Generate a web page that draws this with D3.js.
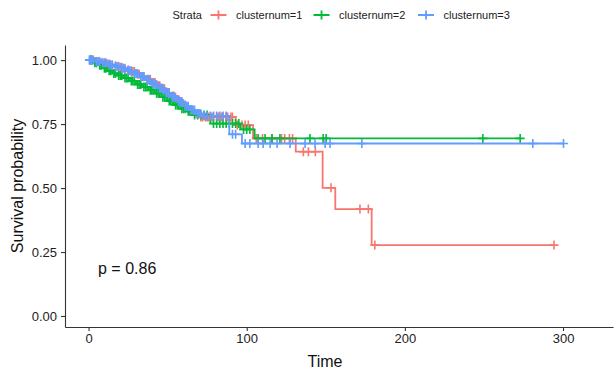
<!DOCTYPE html>
<html>
<head>
<meta charset="utf-8">
<script src="https://cdn.jsdelivr.net/npm/d3@7"></script>
<style>
  body { margin: 0; background: #fff; }
  text { font-family: "Liberation Sans", Arial, sans-serif; }
</style>
</head>
<body>
<div id="chart"></div>
<script>
var width = 616, height = 370;

var strata = ["clusternum=1", "clusternum=2", "clusternum=3"];
var colors = ["#F8766D", "#00BA38", "#619CFF"];

// step points (event times and survival after the step)
var timeC1 = [0, 3, 6, 10, 14, 18, 22, 26, 30, 33, 36, 40, 43, 46, 49, 52, 55, 58, 61, 64, 67, 70, 93, 104, 131, 148, 156, 179];
var survC1 = [1, 0.995, 0.99, 0.985, 0.978, 0.972, 0.962, 0.955, 0.945, 0.935, 0.925, 0.912, 0.9, 0.888, 0.872, 0.86, 0.845, 0.83, 0.812, 0.8, 0.79, 0.778, 0.746, 0.694, 0.642, 0.501, 0.418, 0.277];
var censC1 = [1, 2, 4, 5, 7, 8, 11, 12, 13, 15, 17, 19, 20, 21, 23, 25, 27, 28, 29, 31, 32, 34, 35, 37, 38, 39, 41, 42, 44, 45, 47, 48, 50, 51, 53, 54, 56, 57, 59, 60, 62, 63, 65, 66, 68, 69, 71, 72, 74, 75, 76, 78, 79, 81, 82, 84, 85, 87, 88, 90, 91, 94, 97, 99, 101, 106, 110, 116, 122, 124, 127, 129, 135.8, 139, 143.4, 153.3, 171.6, 176.9, 181, 294.3];

var timeC2 = [0, 3, 6, 9, 12, 15, 18, 22, 26, 30, 34, 38, 42, 46, 50, 54, 58, 62, 66, 77, 96, 105];
var survC2 = [1, 0.99, 0.98, 0.968, 0.958, 0.948, 0.94, 0.93, 0.918, 0.905, 0.895, 0.882, 0.87, 0.855, 0.84, 0.825, 0.81, 0.8, 0.785, 0.752, 0.729, 0.694];
var censC2 = [1, 2, 4, 5, 7, 8, 10, 11, 13, 14, 16, 17, 19, 20, 21, 23, 24, 25, 27, 28, 29, 31, 32, 33, 35, 36, 37, 39, 40, 41, 43, 44, 45, 47, 48, 49, 51, 52, 53, 55, 56, 57, 59, 60, 61, 63, 64, 67, 69, 71, 73, 75, 79, 81, 83, 85, 87, 89, 91, 93, 95, 98, 100, 102, 107.2, 111.6, 116, 121, 140, 148.3, 150.2, 249.3, 272.9];

var timeC3 = [0, 4, 8, 12, 16, 20, 24, 28, 32, 36, 40, 44, 48, 52, 56, 60, 64, 68, 72, 89, 97];
var survC3 = [1, 0.995, 0.99, 0.982, 0.975, 0.968, 0.958, 0.948, 0.936, 0.922, 0.905, 0.89, 0.872, 0.855, 0.838, 0.82, 0.805, 0.79, 0.782, 0.71, 0.674];
var censC3 = [0.5, 1, 2, 3, 5, 6, 7, 9, 10, 11, 13, 14, 15, 17, 18, 19, 21, 22, 23, 25, 26, 27, 29, 30, 31, 33, 34, 35, 37, 38, 39, 41, 42, 43, 45, 46, 47, 49, 50, 51, 53, 54, 55, 57, 58, 59, 61, 62, 63, 65, 66, 67, 69, 70, 71, 73, 75, 77, 79, 81, 83, 85, 87, 91, 93, 99, 102, 107.2, 110.4, 114.8, 119.2, 127.4, 136.9, 143.2, 149.6, 152.7, 172.8, 280.9, 300.3];

var xTicks = [0, 100, 200, 300];
var yTicks = [0, 0.25, 0.5, 0.75, 1];
var pText = "p = 0.86";

var groups = [
  { name: strata[0], color: colors[0], time: timeC1, surv: survC1, cens: censC1 },
  { name: strata[1], color: colors[1], time: timeC2, surv: survC2, cens: censC2 },
  { name: strata[2], color: colors[2], time: timeC3, surv: survC3, cens: censC3 }
];

var svg = d3.select("#chart")
  .append("svg")
  .attr("width", width)
  .attr("height", height);

var x = d3.scaleLinear().domain([-14.9, 331.6]).range([65, 613]);
var y = d3.scaleLinear().domain([-0.043, 1.059]).range([327, 45]);

// axes
var xAxis = svg.append("g")
  .attr("transform", "translate(0,327)")
  .call(d3.axisBottom(x).tickValues(xTicks).tickSize(4).tickPadding(3).tickSizeOuter(0).tickFormat(d3.format("d")));
var yAxis = svg.append("g")
  .attr("transform", "translate(65,0)")
  .call(d3.axisLeft(y).tickValues(yTicks).tickSize(4).tickPadding(4).tickSizeOuter(0).tickFormat(d3.format(".2f")));

[xAxis, yAxis].forEach(function(a) {
  a.select(".domain").attr("stroke", "#333").attr("stroke-width", 1.1);
  a.selectAll(".tick line").attr("stroke", "#333").attr("stroke-width", 1.1);
  a.selectAll(".tick text").attr("fill", "#222").style("font-size", "13px")
    .style("font-family", "'Liberation Sans', Arial, sans-serif");
});

function survAt(g, t) {
  var s = g.surv[0];
  for (var i = 0; i < g.time.length; i++) {
    if (g.time[i] <= t) s = g.surv[i];
  }
  return s;
}

var line = d3.line()
  .x(function(d) { return x(d[0]); })
  .y(function(d) { return y(d[1]); })
  .curve(d3.curveStepAfter);

groups.forEach(function(g) {
  var pts = g.time.map(function(t, i) { return [t, g.surv[i]]; });
  var tMax = d3.max(g.cens);
  pts.push([tMax, g.surv[g.surv.length - 1]]);

  svg.append("path")
    .datum(pts)
    .attr("fill", "none")
    .attr("stroke", g.color)
    .attr("stroke-width", 1.8)
    .attr("d", line);

  svg.append("g").selectAll("path")
    .data(g.cens)
    .enter()
    .append("path")
    .attr("stroke", g.color)
    .attr("stroke-width", 1.6)
    .attr("d", function(t) {
      var cx = x(t), cy = y(survAt(g, t));
      return "M" + (cx - 4.5) + "," + cy + "H" + (cx + 4.5) + "M" + cx + "," + (cy - 4.5) + "V" + (cy + 4.5);
    });
});

// p value
svg.append("text")
  .attr("x", 98)
  .attr("y", 274)
  .style("font-size", "16px")
  .attr("fill", "#111")
  .text(pText);

// axis titles
svg.append("text")
  .attr("x", 325)
  .attr("y", 367)
  .attr("text-anchor", "middle")
  .style("font-size", "16px")
  .attr("fill", "#111")
  .text("Time");

svg.append("text")
  .attr("transform", "translate(23,186) rotate(-90)")
  .attr("text-anchor", "middle")
  .style("font-size", "16px")
  .attr("fill", "#111")
  .text("Survival probability");

// legend
var legend = svg.append("g");
legend.append("text")
  .attr("x", 172.5)
  .attr("y", 19)
  .style("font-size", "11px")
  .attr("fill", "#222")
  .text("Strata");

var keyX = [218.5, 321.5, 426];
groups.forEach(function(g, i) {
  var k = legend.append("g").attr("transform", "translate(" + keyX[i] + ",15)");
  k.append("path")
    .attr("stroke", g.color)
    .attr("stroke-width", 1.8)
    .attr("d", "M-8,0H8M0,-4.5V4.5");
  k.append("text")
    .attr("x", 17.5)
    .attr("y", 4)
    .style("font-size", "11px")
    .attr("fill", "#222")
    .text(g.name);
});
</script>
</body>
</html>
